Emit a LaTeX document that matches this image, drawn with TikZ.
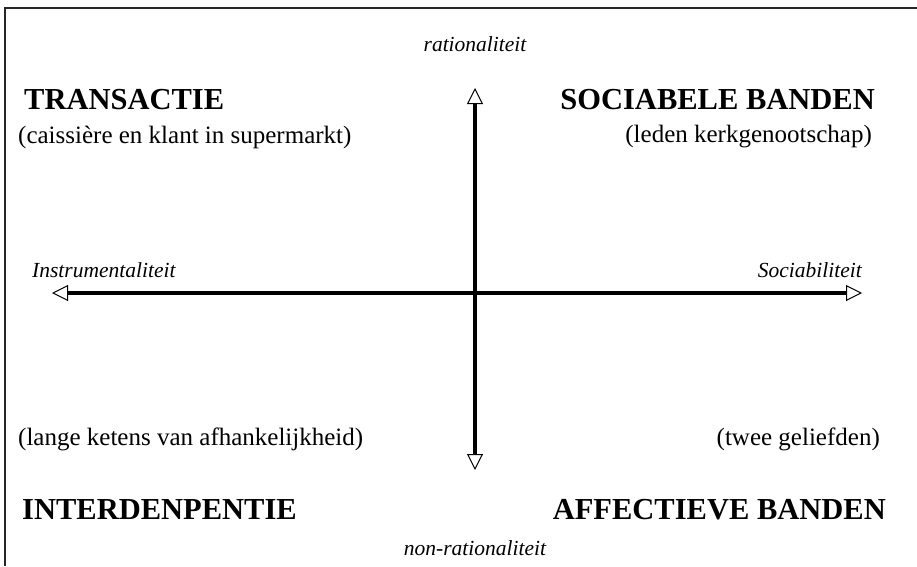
\documentclass[tikz,border=0pt]{standalone}
\usepackage{fontspec}
\setmainfont{Liberation Serif}
\usetikzlibrary{arrows.meta}
\tikzset{
  frame/.style={line width=1.5pt, draw=black!85},
  axis/.style={line width=3.6pt, {Triangle[open, length=16pt, width=16pt, line width=1pt, fill=white]}-{Triangle[open, length=16pt, width=16pt, line width=1pt, fill=white]}},
  big/.style={font=\fontsize{30.5}{34}\selectfont\bfseries, inner sep=0pt},
  paren/.style={font=\fontsize{25}{29}\selectfont, inner sep=0pt},
  axlabel/.style={font=\fontsize{21.5}{25}\selectfont\itshape, inner sep=0pt},
}
\begin{document}
\begin{tikzpicture}[x=1pt,y=-1pt]
\useasboundingbox (0,0) rectangle (917,566);
\draw[frame] (917,8) -- (5,8) -- (5,566);
% axes
\coordinate (top) at (475,88);
\coordinate (bot) at (475,470);
\coordinate (lft) at (52,293);
\coordinate (rgt) at (862,293);
\draw[axis] (bot) -- (top);
\draw[axis] (lft) -- (rgt);
% axis labels
\node[axlabel] (rat) at (475,44) {rationaliteit};
\node[axlabel] (nonrat) at (475,548) {non-rationaliteit};
\node[axlabel, anchor=west] (instr) at (32,270) {Instrumentaliteit};
\node[axlabel, anchor=east] (soc) at (862,270) {Sociabiliteit};
% quadrant titles
\node[big, anchor=west] (trans) at (24,100) {TRANSACTIE};
\node[big, anchor=east] (sociab) at (875,100) {SOCIABELE BANDEN};
\node[big, anchor=west] (inter) at (22,510) {INTERDENPENTIE};
\node[big, anchor=east] (affect) at (886,510) {AFFECTIEVE BANDEN};
% examples
\node[paren, anchor=west] (ex1) at (18,137) {(caissière en klant in supermarkt)};
\node[paren, anchor=east] (ex2) at (872,137) {(leden kerkgenootschap)};
\node[paren, anchor=west] (ex3) at (18,439) {(lange ketens van afhankelijkheid)};
\node[paren, anchor=east] (ex4) at (880,439) {(twee geliefden)};
\end{tikzpicture}
\end{document}
